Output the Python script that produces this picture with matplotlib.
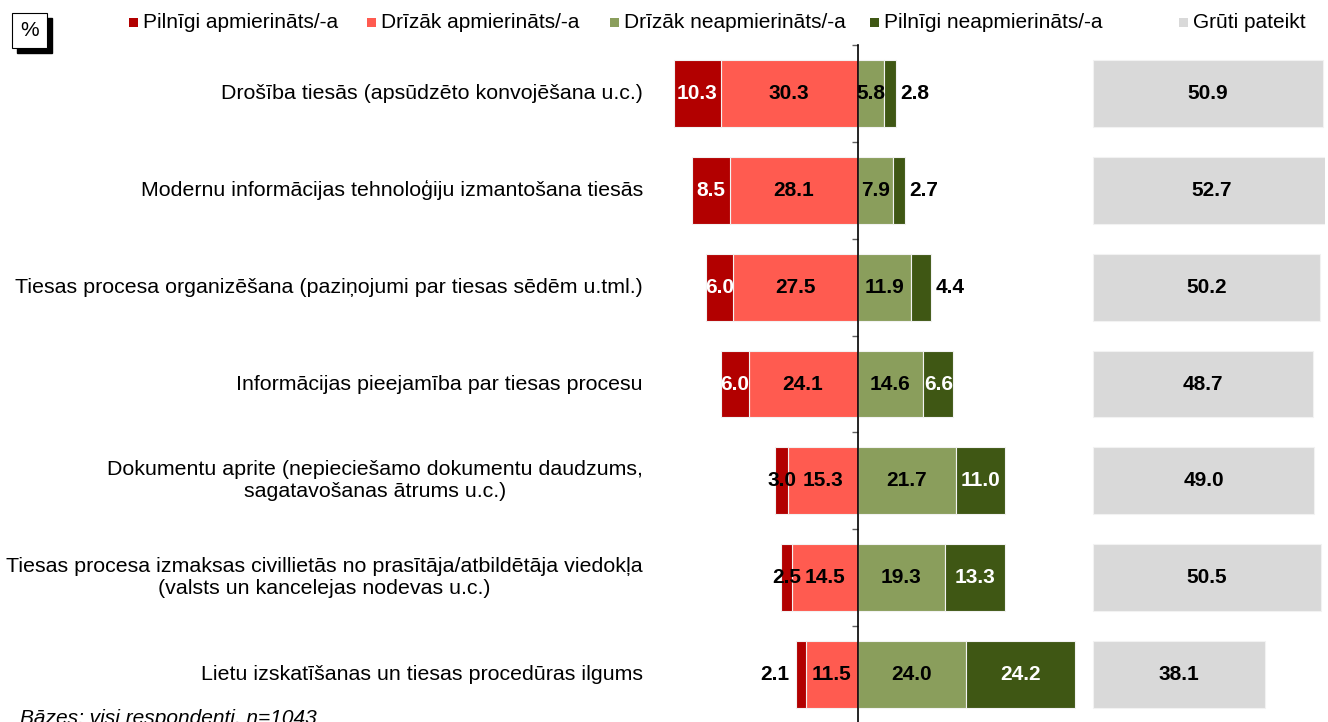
import matplotlib
matplotlib.use("Agg")
import matplotlib.pyplot as plt
import matplotlib.transforms as mtransforms
from matplotlib.patches import Rectangle
import numpy as np

plt.rcParams['font.family'] = ['Liberation Sans', 'DejaVu Sans']

categories = [
    "Drošība tiesās (apsūdzēto konvojēšana u.c.)",
    "Modernu informācijas tehnoloģiju izmantošana tiesās",
    "Tiesas procesa organizēšana (paziņojumi par tiesas sēdēm u.tml.)",
    "Informācijas pieejamība par tiesas procesu",
    "Dokumentu aprite (nepieciešamo dokumentu daudzums,\nsagatavošanas ātrums u.c.)",
    "Tiesas procesa izmaksas civillietās no prasītāja/atbildētāja viedokļa\n(valsts un kancelejas nodevas u.c.)",
    "Lietu izskatīšanas un tiesas procedūras ilgums",
]
series_names = ["Pilnīgi apmierināts/-a", "Drīzāk apmierināts/-a",
                "Drīzāk neapmierināts/-a", "Pilnīgi neapmierināts/-a", "Grūti pateikt"]
pilnigi_apm = [10.3, 8.5, 6.0, 6.0, 3.0, 2.5, 2.1]
drizak_apm = [30.3, 28.1, 27.5, 24.1, 15.3, 14.5, 11.5]
drizak_neapm = [5.8, 7.9, 11.9, 14.6, 21.7, 19.3, 24.0]
pilnigi_neapm = [2.8, 2.7, 4.4, 6.6, 11.0, 13.3, 24.2]
gruti = [50.9, 52.7, 50.2, 48.7, 49.0, 50.5, 38.1]

colors = ["#B20000", "#FF5B50", "#8A9E5C", "#3F5714", "#D9D9D9"]

W, H = 1328, 722
fig = plt.figure(figsize=(W / 100, H / 100), dpi=100)

px = 4.52           # pixels per percent
zero_px = 857.5
ax_left_px, ax_right_px = 650, 1325
ax_top_px, ax_bot_px = 45, 723
ax = fig.add_axes([ax_left_px / W, 1 - ax_bot_px / H,
                   (ax_right_px - ax_left_px) / W, (ax_bot_px - ax_top_px) / H])
ax.set_xlim(-(zero_px - ax_left_px) / px, (ax_right_px - zero_px) / px)
n = len(categories)
y = np.arange(n)
ax.set_ylim(n - 0.5, -0.5)

bh = 0.69
pa = np.array(pilnigi_apm)
da = np.array(drizak_apm)
dn = np.array(drizak_neapm)
pn = np.array(pilnigi_neapm)
gr = np.array(gruti)
gray_offset = (1093 - zero_px) / px

ekw = dict(edgecolor="#f2f2f2", linewidth=0.8, height=bh, zorder=1)
ax.barh(y, -da, left=0, color=colors[1], **ekw)
ax.barh(y, -pa, left=-da, color=colors[0], **ekw)
ax.barh(y, dn, left=0, color=colors[2], **ekw)
ax.barh(y, pn, left=dn, color=colors[3], **ekw)
ax.barh(y, gr, left=gray_offset, color=colors[4], **ekw)

fs = 15
fs_cat = 15.4
tkw = dict(fontsize=fs, fontweight="bold", va="center", zorder=4)

# label placement modes for the small segments
pa_mode = ["in", "in", "in", "in", "in_black", "in_black", "out_left"]
pn_mode = ["out_right", "out_right", "out_right", "in", "in", "in", "in"]

offset = mtransforms.offset_copy
for i in range(n):
    left = -(da[i] + pa[i])
    c = left + pa[i] / 2
    if pa_mode[i] == "in":
        ax.text(c, y[i], f"{pa[i]:.1f}", ha="center", color="white", **tkw)
    elif pa_mode[i] == "in_black":
        ax.text(c, y[i], f"{pa[i]:.1f}", ha="center", color="black", **tkw)
    else:
        ax.text(left, y[i], f"{pa[i]:.1f}", ha="right", color="black",
                transform=offset(ax.transData, fig=fig, x=-7, y=0, units="dots"), **tkw)
    ax.text(-da[i] / 2, y[i], f"{da[i]:.1f}", ha="center", color="black", **tkw)
    ax.text(dn[i] / 2, y[i], f"{dn[i]:.1f}", ha="center", color="black", **tkw)
    if pn_mode[i] == "in":
        ax.text(dn[i] + pn[i] / 2, y[i], f"{pn[i]:.1f}", ha="center", color="white", **tkw)
    else:
        ax.text(dn[i] + pn[i], y[i], f"{pn[i]:.1f}", ha="left", color="black",
                transform=offset(ax.transData, fig=fig, x=4, y=0, units="dots"), **tkw)
    ax.text(gray_offset + gr[i] / 2, y[i], f"{gr[i]:.1f}", ha="center", color="black", **tkw)

# axis styling: spine at zero with boundary ticks
for s in ["top", "right", "bottom"]:
    ax.spines[s].set_visible(False)
ax.spines["left"].set_position(("data", 0))
ax.spines["left"].set_linewidth(1.2)
ax.spines["left"].set_color("black")
ax.set_xticks([])
ax.set_yticks([])
ax.set_yticks(np.arange(-0.5, n, 1.0), minor=True)
ax.tick_params(axis="y", which="minor", direction="out", length=4, width=1, color="#606060",
               labelleft=False)

# category labels
lab_tr = mtransforms.blended_transform_factory(fig.transFigure, ax.transData)
for i, cat in enumerate(categories):
    ax.text(643 / W, y[i], cat, ha="right", va="center", multialignment="center",
            fontsize=fs_cat, transform=lab_tr, color="black", linespacing=1.2)

# legend (manual)
sq = 9
leg_x = [129, 367, 610, 870, 1179]
leg_y = 22
for xp, name, col in zip(leg_x, series_names, colors):
    fig.patches.append(Rectangle((xp / W, 1 - (leg_y + 5) / H), sq / W, sq / H,
                                 transform=fig.transFigure, facecolor=col,
                                 edgecolor="none"))
    fig.text((xp + sq + 5) / W, 1 - leg_y / H, name, ha="left", va="center",
             fontsize=fs, color="black")

# percent box with shadow
fig.patches.append(Rectangle((17 / W, 1 - 53 / H), 35 / W, 35 / H,
                             transform=fig.transFigure, facecolor="black",
                             edgecolor="black"))
fig.patches.append(Rectangle((12 / W, 1 - 48 / H), 35 / W, 35 / H,
                             transform=fig.transFigure, facecolor="white",
                             edgecolor="black", linewidth=0.8))
fig.text(30 / W, 1 - 30 / H, "%", ha="center", va="center", fontsize=fs)

# footnote (cut at bottom, as in the source)
fig.text(20 / W, 1 - 709 / H, "Bāzes: visi respondenti, n=1043", ha="left", va="top",
         fontsize=fs, style="italic")

fig.savefig("out.png", dpi=100)
